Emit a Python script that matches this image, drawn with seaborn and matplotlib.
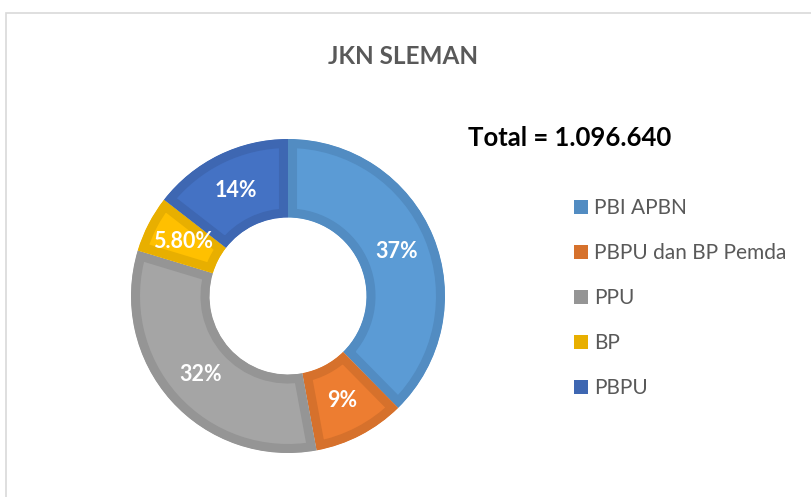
import matplotlib
matplotlib.use("Agg")
import matplotlib.pyplot as plt
import seaborn as sns
from matplotlib.patches import Patch, Rectangle

categories = ["PBI APBN", "PBPU dan BP Pemda", "PPU", "BP", "PBPU"]
shares = [37.4, 9.4, 32.4, 5.8, 14.4]
pct_labels = ["37%", "9%", "32%", "5.80%", "14%"]
fill_colors = ["#5B9BD5", "#ED7D31", "#A5A5A5", "#FFC000", "#4472C4"]
edge_colors = ["#528CC2", "#D6712C", "#959595", "#E8AF00", "#3E67B2"]
title = "JKN SLEMAN"
total_text = "Total = 1.096.640"

sns.set_theme(style="white")
plt.rcParams["font.family"] = ["Lato", "DejaVu Sans"]

W, H = 811, 497
fig = plt.figure(figsize=(W / 100, H / 100), dpi=100)
fig.patch.set_facecolor("white")

# chart area border (left and top visible)
fig.patches.append(Rectangle((6 / W, -0.2), 1.2, (H - 13) / H + 0.2, transform=fig.transFigure,
                             fill=False, edgecolor="#D9D9D9", linewidth=1.2))

cx, cy, R = 288, 296, 157
ax = fig.add_axes([(cx - R) / W, (H - cy - R) / H, 2 * R / W, 2 * R / H])
wedges, texts = ax.pie(
    shares, labels=pct_labels, colors=fill_colors, startangle=90, counterclock=False,
    labeldistance=0.75, radius=1,
    wedgeprops=dict(width=0.5, linewidth=13),
    textprops=dict(ha="center", va="center", color="white", fontweight="bold", fontsize=15.5),
)
ax.set_xlim(-1, 1)
ax.set_ylim(-1, 1)
ax.set_aspect("auto")
ax.axis("off")
for w, ec in zip(wedges, edge_colors):
    w.set_edgecolor(ec)
    w.set_clip_on(True)
    w.set_clip_path(w)

fig.text(403 / W, 1 - 57 / H, title, ha="center", va="center", fontsize=17.5,
         fontweight="bold", color="#595959")
fig.text(468 / W, 1 - 138 / H, total_text, ha="left", va="center", fontsize=18.5,
         fontweight="bold", color="black")

handles = [Patch(facecolor=c, edgecolor="none") for c in edge_colors]
fig.legend(handles, categories, loc="upper left", bbox_to_anchor=(574 / W, 1 - 198 / H),
           frameon=False, fontsize=15, handlelength=0.68, handleheight=0.68,
           handletextpad=0.3, labelspacing=1.2, borderpad=0, borderaxespad=0,
           labelcolor="#595959")

fig.savefig("out.png", dpi=100, facecolor="white")
